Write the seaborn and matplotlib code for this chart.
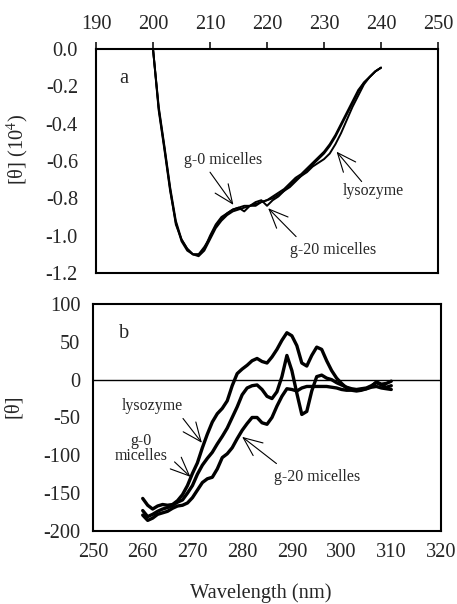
import numpy as np
import pandas as pd
import matplotlib
matplotlib.use("Agg")
import matplotlib.pyplot as plt
import seaborn as sns

# ---------------- data: panel a (far-UV CD) ----------------
wl_a = list(range(200, 241))
lys_a = [0.00, -0.31, -0.52, -0.74, -0.92, -1.02, -1.07, -1.10, -1.11, -1.08,
         -1.02, -0.96, -0.92, -0.89, -0.87, -0.86, -0.85, -0.84, -0.83, -0.82,
         -0.81, -0.80, -0.78, -0.76, -0.74, -0.71, -0.68, -0.66, -0.63, -0.61,
         -0.59, -0.56, -0.51, -0.45, -0.38, -0.31, -0.25, -0.19, -0.15, -0.12, -0.10]
g0_a = [0.00, -0.33, -0.54, -0.76, -0.93, -1.03, -1.08, -1.10, -1.10, -1.07,
        -1.00, -0.94, -0.90, -0.88, -0.86, -0.85, -0.87, -0.84, -0.84, -0.82,
        -0.81, -0.79, -0.77, -0.75, -0.72, -0.69, -0.67, -0.64, -0.61, -0.58,
        -0.55, -0.51, -0.46, -0.40, -0.34, -0.28, -0.22, -0.18, -0.15, -0.12, -0.10]
g20_a = [0.00, -0.32, -0.53, -0.75, -0.94, -1.02, -1.07, -1.10, -1.10, -1.06,
         -1.01, -0.95, -0.91, -0.88, -0.86, -0.85, -0.84, -0.84, -0.82, -0.81,
         -0.84, -0.81, -0.79, -0.76, -0.73, -0.70, -0.68, -0.65, -0.62, -0.59,
         -0.56, -0.52, -0.47, -0.41, -0.35, -0.29, -0.23, -0.18, -0.15, -0.12, -0.10]

# ---------------- data: panel b (near-UV CD) ----------------
wl_b = list(range(260, 311))
lys_b = [-157, -166, -171, -167, -165, -166, -165, -160, -152, -140,
         -124, -110, -90, -72, -56, -45, -38, -28, -8, 8,
         14, 19, 25, 28, 24, 22, 30, 40, 52, 62,
         58, 45, 22, 18, 32, 43, 40, 25, 12, 2,
         -5, -11, -13, -14, -13, -12, -9, -3, -6, -5, -2]
g0_b = [-173, -181, -178, -174, -171, -169, -166, -162, -159, -150,
        -140, -125, -113, -104, -96, -85, -75, -64, -50, -36,
        -20, -11, -8, -7, -13, -22, -25, -16, 4, 32,
        12, -18, -46, -42, -15, 4, 6, 2, 0, -4,
        -7, -10, -12, -13, -12, -11, -8, -4, -7, -10, -8]
g20_b = [-179, -186, -183, -178, -176, -174, -170, -167, -166, -163,
         -156, -146, -136, -131, -129, -118, -103, -98, -90, -78,
         -67, -58, -50, -50, -57, -59, -50, -35, -22, -12,
         -13, -15, -11, -9, -9, -9, -9, -9, -10, -11,
         -13, -14, -14, -15, -14, -12, -10, -9, -11, -12, -13]

xticks_a = [190, 200, 210, 220, 230, 240, 250]
yticks_a = [0.0, -0.2, -0.4, -0.6, -0.8, -1.0, -1.2]
xticks_b = [250, 260, 270, 280, 290, 300, 310, 320]
yticks_b = [100, 50, 0, -50, -100, -150, -200]

sns.set_style("white")
plt.rcParams['font.family'] = ['Liberation Serif', 'DejaVu Serif']
plt.rcParams['mathtext.fontset'] = 'stix'

fig = plt.figure(figsize=(4.57, 6.04), dpi=100)
ax1 = fig.add_axes([0.2101, 0.548, 0.7484, 0.3709])
ax2 = fig.add_axes([0.2035, 0.1209, 0.7615, 0.3758])

FS = 14.7
AFS = 11.4

arrow = dict(arrowstyle="->,head_length=0.75,head_width=0.32", color="black",
             lw=0.8, mutation_scale=18, shrinkA=0, shrinkB=0)

# ---- panel a ----
da = pd.DataFrame({"wl": wl_a * 3,
                   "val": lys_a + g0_a + g20_a,
                   "s": ["lysozyme"] * len(wl_a) + ["g-0"] * len(wl_a) + ["g-20"] * len(wl_a)})
for name in ["lysozyme", "g-0", "g-20"]:
    sns.lineplot(data=da[da.s == name], x="wl", y="val", color="black", lw=1.4, ax=ax1,
                 legend=False)
ax1.set_xlim(190, 250)
ax1.set_ylim(-1.2, 0.0)
ax1.set_xticks(xticks_a)
ax1.set_yticks(yticks_a)
ax1.set_yticklabels([f"{v:.1f}" for v in yticks_a], fontsize=FS)
ax1.xaxis.tick_top()
ax1.set_xticklabels([str(v) for v in xticks_a], fontsize=FS)
ax1.tick_params(axis='x', direction='out', length=5, width=1.3, pad=6)
ax1.tick_params(axis='y', direction='in', length=4, width=1.3, pad=13)
ax1.set_xlabel("")
ax1.set_ylabel(r"[θ] (10$^{4}$)", fontsize=FS)
ax1.yaxis.set_label_coords(-0.19, 0.553)
ax1.text(194.8, -0.157, "a", fontsize=FS, ha="center", va="center")

ax1.annotate("", xy=(214.1, -0.835), xytext=(210.0, -0.66), arrowprops=arrow)
ax1.text(212.3, -0.595, "g-0 micelles", fontsize=AFS, ha="center", va="center")
ax1.annotate("", xy=(220.2, -0.853), xytext=(225.1, -1.005), arrowprops=arrow)
ax1.text(231.6, -1.077, "g-20 micelles", fontsize=AFS, ha="center", va="center")
ax1.annotate("", xy=(232.2, -0.55), xytext=(236.6, -0.71), arrowprops=arrow)
ax1.text(238.6, -0.76, "lysozyme", fontsize=AFS, ha="center", va="center")

# ---- panel b ----
db = pd.DataFrame({"wl": wl_b * 3,
                   "val": lys_b + g0_b + g20_b,
                   "s": ["lysozyme"] * len(wl_b) + ["g-0"] * len(wl_b) + ["g-20"] * len(wl_b)})
for name in ["lysozyme", "g-0", "g-20"]:
    sns.lineplot(data=db[db.s == name], x="wl", y="val", color="black", lw=2.4, ax=ax2,
                 legend=False)
ax2.axhline(0, color="black", lw=1.0)
ax2.set_xlim(250, 320)
ax2.set_ylim(-200, 100)
ax2.set_xticks(xticks_b)
ax2.set_yticks(yticks_b)
ax2.set_xticklabels([str(v) for v in xticks_b], fontsize=FS)
ax2.set_yticklabels([str(v) for v in yticks_b], fontsize=FS)
ax2.tick_params(axis='x', direction='in', length=6, width=1.3, pad=9)
ax2.tick_params(axis='y', direction='in', length=4, width=1.3, pad=9)
ax2.set_xlabel("")
ax2.set_ylabel("[θ]", fontsize=FS)
ax2.yaxis.set_label_coords(-0.2, 0.55)
ax2.text(256.3, 61, "b", fontsize=FS, ha="center", va="center")
fig.text(0.57, 1 - 598.0 / 604, "Wavelength (nm)", fontsize=FS, ha="center",
         va="baseline")

ax2.annotate("", xy=(271.9, -83.5), xytext=(268.1, -51.3), arrowprops=arrow)
ax2.text(261.9, -35, "lysozyme", fontsize=AFS, ha="center", va="center")
ax2.annotate("", xy=(269.6, -128.5), xytext=(266.4, -108.7), arrowprops=arrow)
ax2.text(259.7, -91, "g-0\nmicelles", fontsize=AFS, ha="center", va="center",
         linespacing=0.9)
ax2.annotate("", xy=(280.0, -75.6), xytext=(286.9, -110.9), arrowprops=arrow)
ax2.text(295.0, -128.5, "g-20 micelles", fontsize=AFS, ha="center", va="center")

for ax in (ax1, ax2):
    for sp in ax.spines.values():
        sp.set_visible(True)
        sp.set_color("black")
        sp.set_linewidth(1.5)

fig.savefig("out.png", dpi=100)
